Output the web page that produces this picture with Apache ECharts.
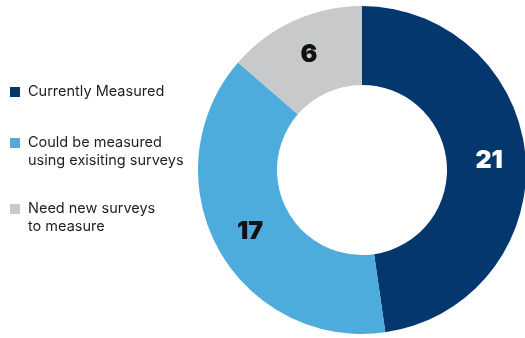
<!DOCTYPE html>
<html>
<head>
<meta charset="utf-8">
<script src="https://cdn.jsdelivr.net/npm/echarts@6/dist/echarts.min.js"></script>
<style>
  html, body { margin: 0; padding: 0; background: #fff; }
  #chart { width: 525px; height: 338px; }
</style>
</head>
<body>
<div id="chart"></div>
<script>
// data
const categories = ['Currently Measured', 'Could be measured\nusing exisiting surveys', 'Need new surveys\nto measure'];
const values = [21, 17, 6];
const colors = ['#03376e', '#4eacdd', '#c8c9cb'];
const labelColors = ['#ffffff', '#111111', '#111111'];

const LINE = 18;
// icon centres in the reference: 92, 143, 209
const legendTops = [83, 116, 182];

const chart = echarts.init(document.getElementById('chart'));

// one legend per item so each can sit where the reference puts it
const legends = categories.map((name, i) => {
  const twoLines = name.indexOf('\n') >= 0;
  return {
    orient: 'vertical',
    left: 10,
    top: legendTops[i],
    padding: 0,
    icon: 'rect',
    itemWidth: 10,
    itemHeight: 10,
    selectedMode: false,
    // a blank first line keeps the marker level with the first text line
    formatter: (n) => (twoLines ? '\n' + n : n),
    textStyle: {
      fontFamily: 'Inter',
      fontSize: 14.5,
      color: '#1f1f1f',
      lineHeight: LINE,
      padding: [0, 0, 0, 3]
    },
    data: [name]
  };
});

const option = {
  animation: false,
  color: colors,
  legend: legends,
  series: [
    {
      type: 'pie',
      center: [362, 170],
      radius: [85, 164],
      startAngle: 90,
      clockwise: true,
      avoidLabelOverlap: false,
      emphasis: { disabled: true },
      label: {
        show: true,
        position: 'inside',
        formatter: '{c}',
        fontFamily: 'Inter',
        fontWeight: 900,
        fontSize: 25
      },
      labelLine: { show: false },
      itemStyle: { borderWidth: 0 },
      data: categories.map((name, i) => ({
        name: name,
        value: values[i],
        label: { color: labelColors[i] }
      }))
    }
  ]
};

chart.setOption(option);
</script>
</body>
</html>
